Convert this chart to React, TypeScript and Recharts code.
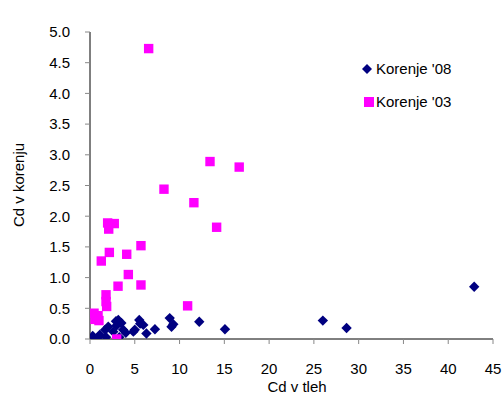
import { ScatterChart, Scatter, XAxis, YAxis } from "recharts";

// Korenje '08 (navy diamonds)
const k08X = [0.3, 0.86, 1.1, 1.7, 1.8, 2.04, 2.6, 2.9, 2.97, 3.16, 3.27, 3.5, 3.7, 4.0, 4.84, 5.0, 5.5, 5.6, 5.95, 6.3, 7.25, 8.9, 9.1, 9.3, 12.2, 15.07, 26.0, 28.65, 42.9];
const k08Y = [0.05, 0.02, 0.07, 0.15, 0.03, 0.2, 0.12, 0.29, 0.22, 0.31, 0.03, 0.26, 0.15, 0.1, 0.12, 0.15, 0.31, 0.25, 0.23, 0.09, 0.16, 0.34, 0.2, 0.24, 0.28, 0.16, 0.3, 0.18, 0.85];

// Korenje '03 (magenta squares)
const k03X = [6.55, 13.4, 16.66, 8.26, 11.6, 14.14, 1.97, 2.71, 2.09, 5.69, 2.16, 4.1, 1.26, 4.28, 3.13, 5.69, 1.79, 1.79, 1.86, 10.9, 0.45, 0.9, 0.55, 1.0, 2.98];
const k03Y = [4.73, 2.89, 2.8, 2.44, 2.22, 1.82, 1.89, 1.88, 1.79, 1.52, 1.41, 1.38, 1.27, 1.05, 0.86, 0.88, 0.72, 0.61, 0.53, 0.54, 0.42, 0.38, 0.32, 0.3, 0.0];

const xTicks = [0, 5, 10, 15, 20, 25, 30, 35, 40, 45];
const yTicks = [0, 0.5, 1, 1.5, 2, 2.5, 3, 3.5, 4, 4.5, 5];

const k08 = k08X.map((x, i) => ({ x, y: k08Y[i] }));
const k03 = k03X.map((x, i) => ({ x, y: k03Y[i] }));

const NAVY = "#000080";
const PINK = "#FF00FF";
const FONT = "'Liberation Sans', Arial, sans-serif";

const Diamond = (props: any) => {
  const { cx, cy } = props;
  const r = 5.2;
  return <path d={`M${cx},${cy - r}L${cx + r},${cy}L${cx},${cy + r}L${cx - r},${cy}Z`} fill={NAVY} />;
};

const Square = (props: any) => {
  const { cx, cy } = props;
  return <rect x={cx - 4.7} y={cy - 4.7} width={9.4} height={9.4} fill={PINK} />;
};

export default function App() {
  return (
    <div style={{ position: "absolute", left: 0, top: 0, width: 502, height: 394, background: "#fff", fontFamily: FONT }}>
      <ScatterChart width={502} height={394} margin={{ top: 32, right: 9, bottom: 25, left: 0 }}>
        <XAxis
          type="number"
          dataKey="x"
          domain={[0, 45]}
          ticks={xTicks}
          interval={0}
          height={30}
          stroke="#000"
          tickSize={5}
          tickMargin={19}
          tick={{ fill: "#000", fontSize: 15, fontFamily: FONT }}
          tickLine={{ stroke: "#888" }}
          allowDataOverflow
        />
        <YAxis
          type="number"
          dataKey="y"
          domain={[0, 5]}
          ticks={yTicks}
          interval={0}
          width={90}
          stroke="#000"
          tickSize={5}
          tickMargin={15}
          tickFormatter={(v: number) => v.toFixed(1)}
          tick={{ fill: "#000", fontSize: 15, fontFamily: FONT }}
          tickLine={{ stroke: "#888" }}
          allowDataOverflow
        />
        <Scatter data={k08} shape={<Diamond />} isAnimationActive={false} />
        <Scatter data={k03} shape={<Square />} isAnimationActive={false} />
        <text x={297} y={392} textAnchor="middle" fontSize={15} fontFamily={FONT} fill="#000">
          Cd v tleh
        </text>
        <text x={24} y={185} textAnchor="middle" fontSize={15} fontFamily={FONT} fill="#000" transform="rotate(-90 24 185)">
          Cd v korenju
        </text>
        <path d="M362,69L367,64L372,69L367,74Z" fill={NAVY} />
        <text x={376} y={74} fontSize={15} fontFamily={FONT} fill="#000">
          Korenje '08
        </text>
        <rect x={364} y={97} width={10} height={10} fill={PINK} />
        <text x={376} y={107} fontSize={15} fontFamily={FONT} fill="#000">
          Korenje '03
        </text>
      </ScatterChart>
    </div>
  );
}
